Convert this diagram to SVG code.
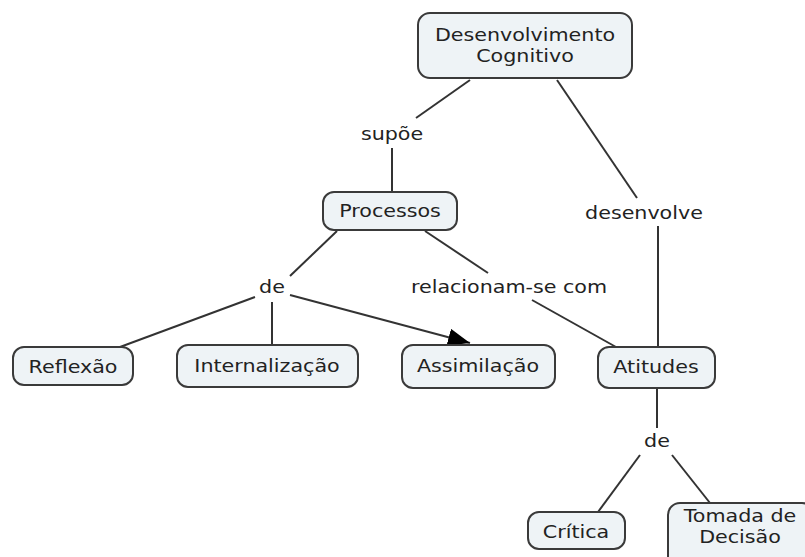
<svg xmlns="http://www.w3.org/2000/svg" width="805" height="557" viewBox="0 0 805 557">
<style>
.n{fill:#eef3f6;stroke:#3a3a3a;stroke-width:2}
.t{font-family:"DejaVu Sans",Verdana,sans-serif;font-size:17.5px;fill:#222;text-anchor:middle}
.c line{stroke:#333;stroke-width:2}
</style>
<defs>
<marker id="ah" viewBox="0 0 10 10" refX="10" refY="5" markerWidth="10" markerHeight="10" markerUnits="userSpaceOnUse" orient="auto"><path d="M0,0 L10,5 L0,10 z" fill="#000"/></marker>
<marker id="a" viewBox="0 0 20 16" refX="20" refY="8" markerWidth="22" markerHeight="18" markerUnits="userSpaceOnUse" orient="auto"><path d="M0,0 L20,8 L0,16 z" fill="#000"/></marker>
</defs>
<rect width="805" height="557" fill="#fff"/>
<g class="c" id="connectors">
<line x1="470" y1="80" x2="416" y2="118"/>
<line x1="392" y1="148" x2="392" y2="192"/>
<line x1="557" y1="80" x2="637" y2="198"/>
<line x1="658" y1="226" x2="658" y2="347"/>
<line x1="337" y1="231" x2="290" y2="276"/>
<line x1="425" y1="231" x2="488" y2="273"/>
<line x1="255" y1="297" x2="120" y2="347"/>
<line x1="272" y1="302" x2="272" y2="345"/>
<line x1="290" y1="295" x2="470" y2="343" marker-end="url(#a)"/>
<line x1="532" y1="300" x2="616" y2="347"/>
<line x1="657" y1="389" x2="657" y2="428"/>
<line x1="640" y1="455" x2="598" y2="512"/>
<line x1="672" y1="455" x2="710" y2="503"/>
</g>
<g id="n-desenvolvimento"><rect class="n" x="418" y="13" width="214" height="65" rx="12"/>
<text class="t" transform="translate(525,41) scale(1.18,1)">Desenvolvimento</text>
<text class="t" transform="translate(525,62) scale(1.18,1)">Cognitivo</text></g>
<g id="l-supoe"><text class="t" transform="translate(392,140) scale(1.18,1)">supõe</text></g>
<g id="l-desenvolve"><text class="t" transform="translate(644,219) scale(1.18,1)">desenvolve</text></g>
<g id="n-processos"><rect class="n" x="323" y="192" width="134" height="38" rx="11"/>
<text class="t" transform="translate(390,217) scale(1.18,1)">Processos</text></g>
<g id="l-de1"><text class="t" transform="translate(272,293) scale(1.18,1)">de</text></g>
<g id="l-relacionam"><text class="t" transform="translate(509,293) scale(1.18,1)">relacionam-se com</text></g>
<g id="n-reflexao"><rect class="n" x="13" y="347" width="120" height="38" rx="11"/>
<text class="t" transform="translate(73,373) scale(1.18,1)">Reflexão</text></g>
<g id="n-internalizacao"><rect class="n" x="177" y="345" width="181" height="42" rx="11"/>
<text class="t" transform="translate(267,372) scale(1.18,1)">Internalização</text></g>
<g id="n-assimilacao"><rect class="n" x="402" y="345" width="153" height="43" rx="11"/>
<text class="t" transform="translate(478,372) scale(1.18,1)">Assimilação</text></g>
<g id="n-atitudes"><rect class="n" x="598" y="347" width="117" height="41" rx="11"/>
<text class="t" transform="translate(656,373) scale(1.18,1)">Atitudes</text></g>
<g id="l-de2"><text class="t" transform="translate(657,447) scale(1.18,1)">de</text></g>
<g id="n-critica"><rect class="n" x="528" y="512" width="97" height="37" rx="11"/>
<text class="t" transform="translate(576,538) scale(1.18,1)">Crítica</text></g>
<g id="n-tomada"><rect class="n" x="668" y="503" width="146" height="70" rx="12"/>
<text class="t" transform="translate(740,522) scale(1.18,1)">Tomada de</text>
<text class="t" transform="translate(740,543) scale(1.18,1)">Decisão</text></g>
</svg>
